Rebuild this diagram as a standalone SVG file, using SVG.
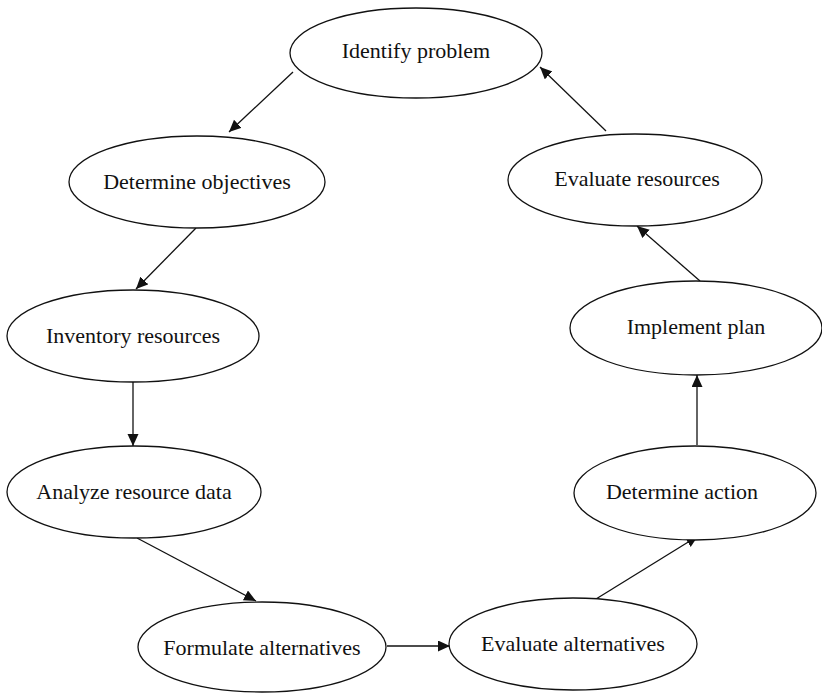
<svg xmlns="http://www.w3.org/2000/svg" width="822" height="694" viewBox="0 0 822 694">
<style>
.n ellipse{fill:#fff;stroke:#111;stroke-width:1.3}
.n text{font-family:"Liberation Serif","Times New Roman",serif;font-size:22px;fill:#111;text-anchor:middle;dominant-baseline:central}
.c line{stroke:#111;stroke-width:1.3;marker-end:url(#ah)}
</style>
<defs>
<marker id="ah" markerUnits="userSpaceOnUse" markerWidth="14" markerHeight="12" refX="12" refY="5.5" orient="auto">
<path d="M0,0 L12,5.5 L0,11 Z" fill="#111"/>
</marker>
</defs>
<rect width="822" height="694" fill="#fff"/>
<g class="c" id="connectors">
<line x1="293" y1="72" x2="229" y2="132"/>
<line x1="196" y1="228" x2="136" y2="289"/>
<line x1="133" y1="382" x2="133" y2="446"/>
<line x1="137" y1="538" x2="256" y2="601"/>
<line x1="387" y1="646" x2="450" y2="646"/>
<line x1="596" y1="599" x2="698" y2="536"/>
<line x1="697" y1="445" x2="697" y2="375"/>
<line x1="700" y1="281" x2="637" y2="226"/>
<line x1="606" y1="131" x2="540" y2="67"/>
</g>
<g class="n" id="identify-problem"><ellipse cx="416" cy="53" rx="126" ry="45"/><text x="416" y="50">Identify problem</text></g>
<g class="n" id="determine-objectives"><ellipse cx="197" cy="182" rx="128" ry="46"/><text x="197" y="181">Determine objectives</text></g>
<g class="n" id="inventory-resources"><ellipse cx="133" cy="336" rx="126" ry="46"/><text x="133" y="335">Inventory resources</text></g>
<g class="n" id="analyze-resource-data"><ellipse cx="134" cy="492" rx="127" ry="46"/><text x="134" y="491">Analyze resource data</text></g>
<g class="n" id="formulate-alternatives"><ellipse cx="262" cy="647" rx="124" ry="45"/><text x="262" y="647">Formulate alternatives</text></g>
<g class="n" id="evaluate-alternatives"><ellipse cx="573" cy="644" rx="124" ry="46"/><text x="573" y="643">Evaluate alternatives</text></g>
<g class="n" id="determine-action"><ellipse cx="695" cy="493" rx="121" ry="47"/><text x="682" y="491">Determine action</text></g>
<g class="n" id="implement-plan"><ellipse cx="696" cy="328" rx="126" ry="47"/><text x="696" y="326">Implement plan</text></g>
<g class="n" id="evaluate-resources"><ellipse cx="635" cy="180" rx="127" ry="46"/><text x="637" y="178">Evaluate resources</text></g>
</svg>
